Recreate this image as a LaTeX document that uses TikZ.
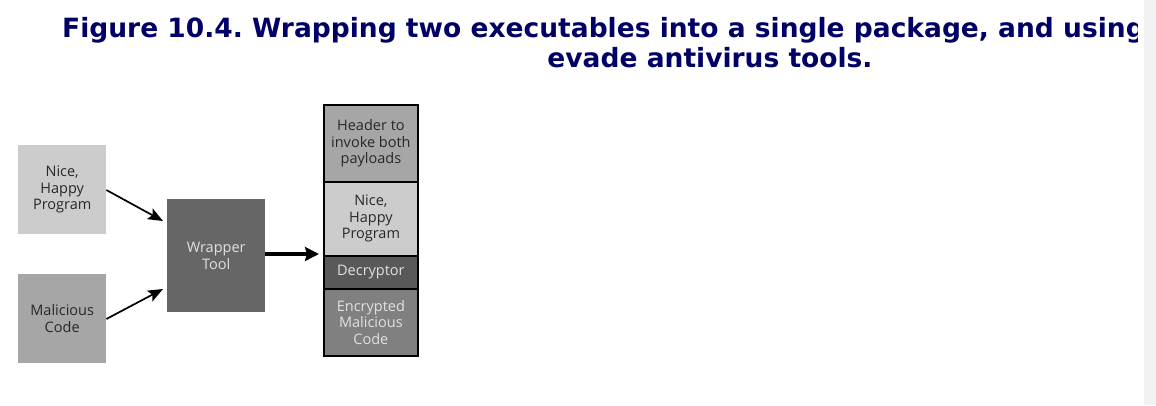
\documentclass[tikz,border=0pt]{standalone}
\usepackage{fontspec}
\setmainfont{DejaVu Sans}
\newfontfamily\labfont{Open Sans}
\usetikzlibrary{arrows.meta}
\definecolor{navy}{RGB}{0,0,102}
\definecolor{lightbox}{RGB}{204,204,204}
\definecolor{midbox}{RGB}{166,166,166}
\definecolor{darkbox}{RGB}{102,102,102}
\definecolor{decbox}{RGB}{89,89,89}
\definecolor{encbox}{RGB}{128,128,128}
\definecolor{darktext}{RGB}{40,40,40}
\definecolor{lighttext}{RGB}{225,225,225}
\definecolor{strip}{RGB}{242,242,242}
\tikzset{
  box/.style={draw=none, inner sep=0pt, align=center, font=\labfont\fontsize{14.5}{16.5}\selectfont},
  stackpart/.style={draw=black, line width=1.8pt, inner sep=0pt, align=center, font=\labfont\fontsize{14.5}{16.5}\selectfont},
  thin arrow/.style={-{Stealth[length=15pt,width=12pt,inset=3pt]}, line width=1.7pt},
  thick arrow/.style={-{Stealth[length=14pt,width=14pt,inset=2pt]}, line width=4.5pt},
  titletext/.style={text=navy, inner sep=0pt, font=\bfseries\fontsize{26.5}{32}\selectfont}
}
\begin{document}
\frenchspacing
\begin{tikzpicture}[x=1pt,y=-1pt]
\useasboundingbox (0,0) rectangle (1156,405);
\fill[white] (0,0) rectangle (1156,405);
\fill[strip] (1144,0) rectangle (1156,405);
% title
\begin{scope}
\clip (0,0) rectangle (1137,405);
\node[titletext, anchor=base west] (t1) at (62,37.3) {Figure 10.4. Wrapping two executables into a single package, and using};
\end{scope}
\node[titletext, anchor=base] (t2) at (710,67.3) {evade antivirus tools.};
% input boxes
\node[box, fill=lightbox, text=darktext, minimum width=88pt, minimum height=89pt, anchor=north west] (nice) at (18,145) {Nice,\\Happy\\Program};
\node[box, fill=midbox, text=darktext, minimum width=88pt, minimum height=89pt, anchor=north west] (mal) at (18,274) {Malicious\\Code};
\node[box, fill=darkbox, text=lighttext, minimum width=98pt, minimum height=113pt, anchor=north west] (wrap) at (167,199) {Wrapper\\Tool};
% stack
\node[stackpart, fill=midbox, text=darktext, minimum width=94pt, minimum height=77pt, anchor=north west] (hdr) at (323,104) {Header to\\invoke both\\payloads};
\node[stackpart, fill=lightbox, text=darktext, minimum width=94pt, minimum height=74pt, anchor=north west] (nice2) at (323,181) {Nice,\\Happy\\Program};
\node[stackpart, fill=decbox, text=lighttext, minimum width=94pt, minimum height=33pt, anchor=north west] (dec) at (323,255) {Decryptor};
\node[stackpart, fill=encbox, text=lighttext, minimum width=94pt, minimum height=67pt, anchor=north west] (enc) at (323,288) {Encrypted\\Malicious\\Code};
% connectors
\draw[thin arrow] ([yshift=-45pt]nice.north east) -- ([xshift=-4pt,yshift=-22pt]wrap.north west);
\draw[thin arrow] ([yshift=-45pt]mal.north east) -- ([xshift=-4pt,yshift=-90pt]wrap.north west);
\draw[thick arrow] ([yshift=-55pt]wrap.north east) -- ([xshift=-4pt,yshift=1pt]dec.north west);
\end{tikzpicture}
\end{document}
